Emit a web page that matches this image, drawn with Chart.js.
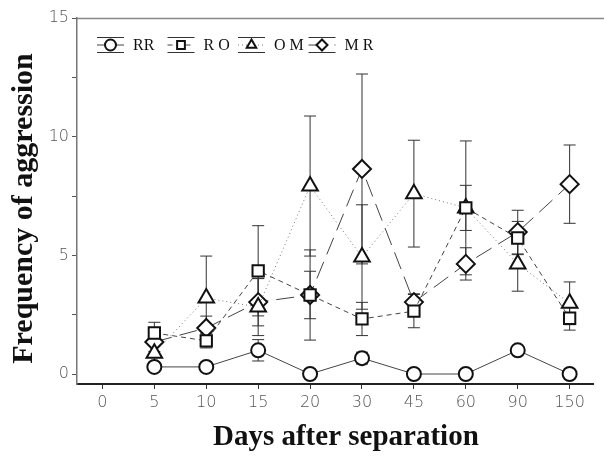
<!DOCTYPE html>
<html>
<head>
<meta charset="utf-8">
<script src="https://cdn.jsdelivr.net/npm/chart.js@4/dist/chart.umd.min.js"></script>
<style>
  body { margin: 0; background: #fff; }
  canvas { display: block; }
</style>
</head>
<body>
<canvas id="myChart" width="604" height="459"></canvas>
<script>
// days after separation (x categories)
var days = ['0', '5', '10', '15', '20', '30', '45', '60', '90', '150'];

// group means and error bar half-lengths
var rrMean = [null, 0.3, 0.3, 1.0, 0, 0.67, 0, 0, 1.0, 0];
var rrErr = [null, 0.1, 0.1, 0.45, 0, 0.25, 0, 0, 0.1, 0];
var roMean = [null, 1.73, 1.4, 4.35, 3.33, 2.32, 2.65, 7.0, 5.73, 2.35];
var roErr = [null, 0.45, 0.3, 1.9, 1.9, 0.7, 0.7, 0.95, 0.7, 0.5];
var omMean = [null, 0.88, 3.2, 2.82, 7.92, 4.93, 7.6, 7.0, 4.64, 2.98];
var omErr = [null, 0.4, 1.77, 1.2, 2.95, 2.2, 2.25, 2.82, 1.15, 0.9];
var mrMean = [null, 1.35, 1.94, 3.03, 3.33, 8.64, 3.03, 4.64, 5.98, 8.0];
var mrErr = [null, 0.4, 0.5, 1.0, 1.0, 4.0, 0.35, 0.68, 0.92, 1.65];

var legendText = ['RR', 'R O', 'O M', 'M R'];
var yMajor = [0, 5, 10, 15];
var yTicks = [0, 2.5, 5, 7.5, 10, 12.5, 15];

function pts(arr) {
    var out = [];
    for (var i = 0; i < arr.length; i++) {
        if (arr[i] !== null) out.push({x: i, y: arr[i]});
    }
    return out;
}

function series(label, mean, err, style, radius, dash, lineColor) {
    return {
        label: label,
        data: pts(mean),
        errors: err,
        pointStyle: style,
        pointRadius: radius,
        pointBorderWidth: 2,
        pointBackgroundColor: '#fff',
        pointBorderColor: '#111',
        borderColor: lineColor,
        borderWidth: 1,
        borderDash: dash,
        fill: false,
        tension: 0
    };
}

var tickFont = {family: "'DejaVu Sans', sans-serif", size: 16, weight: '200'};
var serif = "'Liberation Serif', 'Times New Roman', serif";

// vertical error bars with caps, drawn under the markers
var errorBars = {
    id: 'errorBars',
    beforeDatasetsDraw: function (chart) {
        var ctx = chart.ctx;
        var y = chart.scales.y;
        ctx.save();
        ctx.strokeStyle = '#333';
        ctx.lineWidth = 1;
        ctx.setLineDash([]);
        chart.data.datasets.forEach(function (ds, di) {
            var meta = chart.getDatasetMeta(di);
            meta.data.forEach(function (el, j) {
                var p = ds.data[j];
                var e = ds.errors[p.x];
                if (!e) return;
                var top = y.getPixelForValue(p.y + e);
                var bot = y.getPixelForValue(Math.max(p.y - e, y.min));
                ctx.beginPath();
                ctx.moveTo(el.x, top); ctx.lineTo(el.x, bot);
                ctx.moveTo(el.x - 6, top); ctx.lineTo(el.x + 6, top);
                ctx.moveTo(el.x - 6, bot); ctx.lineTo(el.x + 6, bot);
                ctx.stroke();
            });
        });
        ctx.restore();
    }
};

// top frame line and the in-plot legend
var extras = {
    id: 'extras',
    afterDraw: function (chart) {
        var ctx = chart.ctx;
        var a = chart.chartArea;
        ctx.save();
        ctx.strokeStyle = '#888';
        ctx.lineWidth = 1.5;
        ctx.beginPath();
        ctx.moveTo(a.left, a.top + 0.5);
        ctx.lineTo(chart.width, a.top + 0.5);
        ctx.stroke();

        var yc = a.top + 27;
        ctx.font = '16px ' + serif;
        ctx.textBaseline = 'middle';
        chart.data.datasets.forEach(function (ds, k) {
            var x = a.left + 20 + k * 70.5;
            ctx.strokeStyle = '#333';
            ctx.lineWidth = 1;
            ctx.setLineDash([]);
            ctx.beginPath();
            ctx.moveTo(x, yc - 7.5); ctx.lineTo(x + 27, yc - 7.5);
            ctx.moveTo(x, yc + 7.5); ctx.lineTo(x + 27, yc + 7.5);
            ctx.stroke();
            ctx.strokeStyle = ds.borderColor;
            ctx.setLineDash(ds.borderDash);
            ctx.beginPath();
            ctx.moveTo(x, yc); ctx.lineTo(x + 27, yc);
            ctx.stroke();
            ctx.setLineDash([]);
            ctx.fillStyle = '#fff';
            ctx.strokeStyle = '#111';
            ctx.lineWidth = 2;
            Chart.helpers.drawPoint(ctx, {pointStyle: ds.pointStyle, radius: 5.5, borderWidth: 2}, x + 13.5, yc);
            ctx.fillStyle = '#111';
            ctx.fillText(legendText[k], x + 36, yc + 1);
        });
        ctx.restore();
    }
};

var config = {
    type: 'line',
    data: {
        datasets: [
            series('RR', rrMean, rrErr, 'circle', 7, [], '#444'),
            series('RO', roMean, roErr, 'rect', 8, [5, 4], '#444'),
            series('OM', omMean, omErr, 'triangle', 9, [1, 3], '#777'),
            series('MR', mrMean, mrErr, 'rectRot', 9, [18, 8], '#444')
        ]
    },
    options: {
        responsive: false,
        animation: false,
        layout: {padding: {top: 18, right: 0, left: 0, bottom: 0}},
        plugins: {legend: {display: false}, tooltip: {enabled: false}},
        scales: {
            x: {
                type: 'linear',
                min: -0.49,
                max: 9.45,
                afterBuildTicks: function (s) {
                    s.ticks = days.map(function (d, i) { return {value: i}; });
                },
                afterFit: function (s) { s.height = 75; },
                ticks: {
                    font: tickFont,
                    color: '#555',
                    padding: 4,
                    maxRotation: 0,
                    callback: function (v) { return days[v]; }
                },
                grid: {drawOnChartArea: false, tickLength: 5, color: '#333'},
                border: {color: '#222', width: 2},
                title: {
                    display: true,
                    text: '   Days after separation',
                    font: {family: serif, size: 29, weight: 'bold'},
                    color: '#111',
                    padding: {top: 0, bottom: 4}
                }
            },
            y: {
                min: -0.42,
                max: 15,
                afterBuildTicks: function (s) {
                    s.ticks = yTicks.map(function (v) { return {value: v}; });
                },
                afterFit: function (s) { s.width = 77; },
                ticks: {
                    font: tickFont,
                    color: '#555',
                    padding: 3,
                    callback: function (v) { return yMajor.indexOf(v) >= 0 ? String(v) : ''; }
                },
                grid: {drawOnChartArea: false, tickLength: 5, color: '#555'},
                border: {color: '#777', width: 1.5},
                title: {
                    display: true,
                    text: 'Frequency of aggression  ',
                    font: {family: serif, size: 30, weight: 'bold'},
                    color: '#111',
                    padding: {top: 6, bottom: 0}
                }
            }
        }
    },
    plugins: [errorBars, extras]
};

var myChart = new Chart(document.getElementById('myChart'), config);
</script>
</body>
</html>
